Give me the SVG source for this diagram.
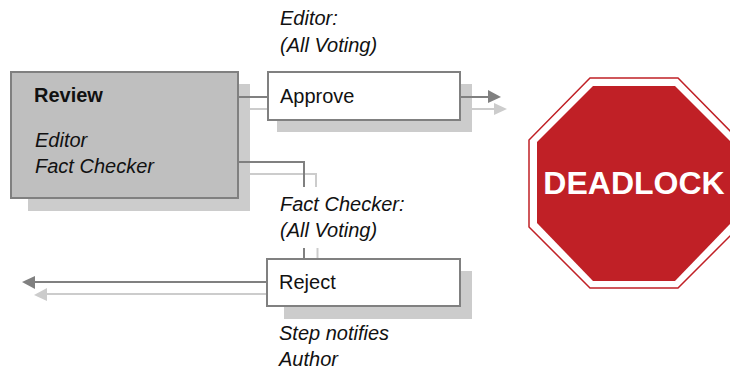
<svg xmlns="http://www.w3.org/2000/svg" width="730" height="367" viewBox="0 0 730 367">
<style>
text{font-family:"Liberation Sans",Arial,sans-serif;font-size:20px;fill:#111}
.i{font-style:italic}
.b{font-weight:bold}
.sh{fill:#cccccc}
.box{fill:#fff;stroke:#808080;stroke-width:2}
.d{fill:none;stroke:#808080;stroke-width:2}
.l{fill:none;stroke:#cccccc;stroke-width:2}
.ah{fill:#808080}
.al{fill:#cccccc}
</style>
<rect width="730" height="367" fill="#fff"/>
<g id="shadows">
<rect class="sh" x="28" y="84" width="222" height="127"/>
<rect class="sh" x="277" y="84" width="195" height="48"/>
<rect class="sh" x="284" y="271" width="188" height="48"/>
</g>
<g id="connectors">
<path class="l" d="M250 109H268"/>
<path class="d" d="M238 97H268"/>
<path class="l" d="M472 109H495"/>
<polygon class="al" points="494,103 507,109 494,115"/>
<path class="d" d="M460 97H490"/>
<polygon class="ah" points="488,90 501,97 488,103"/>
<path class="l" d="M250 174H316V187"/>
<path class="d" d="M238 162H304V187"/>
<path class="l" d="M317.500 248V259"/>
<path class="d" d="M304 248V259"/>
<path class="l" d="M267 294H45"/>
<polygon class="al" points="47,288 34,295 47,301"/>
<path class="d" d="M267 282H33"/>
<polygon class="ah" points="35,276 22,282 35,289"/>
</g>
<g id="review">
<rect x="11" y="72" width="227" height="126" fill="#bfbfbf" stroke="#808080" stroke-width="2"/>
<text class="b" x="34" y="102">Review</text>
<text class="i" x="35" y="147">Editor</text>
<text class="i" x="35" y="173">Fact Checker</text>
</g>
<g id="approve">
<rect class="box" x="268" y="72" width="192" height="48"/>
<text x="280" y="103">Approve</text>
</g>
<g id="reject">
<rect class="box" x="267" y="259" width="193" height="47"/>
<text x="279" y="289">Reject</text>
</g>
<g id="editor-label">
<text class="i" x="280" y="25">Editor:</text>
<text class="i" x="280" y="52">(All Voting)</text>
</g>
<g id="fact-checker-label">
<text class="i" x="280" y="211">Fact Checker:</text>
<text class="i" x="280" y="237">(All Voting)</text>
</g>
<g id="reject-label">
<text class="i" x="279" y="340">Step notifies</text>
<text class="i" x="279" y="366">Author</text>
</g>
<g id="deadlock">
<polygon points="590,78 678,78 739,140 739,227 678,288 590,288 529,227 529,140" fill="#fff" stroke="#c02026" stroke-width="1.500"/>
<polygon points="593,86 675,86 731,142 731,223 675,281 593,281 537,223 537,142" fill="#c02026"/>
<text x="634" y="194" text-anchor="middle" class="b" style="font-size:32px;fill:#fff">DEADLOCK</text>
</g>
</svg>
